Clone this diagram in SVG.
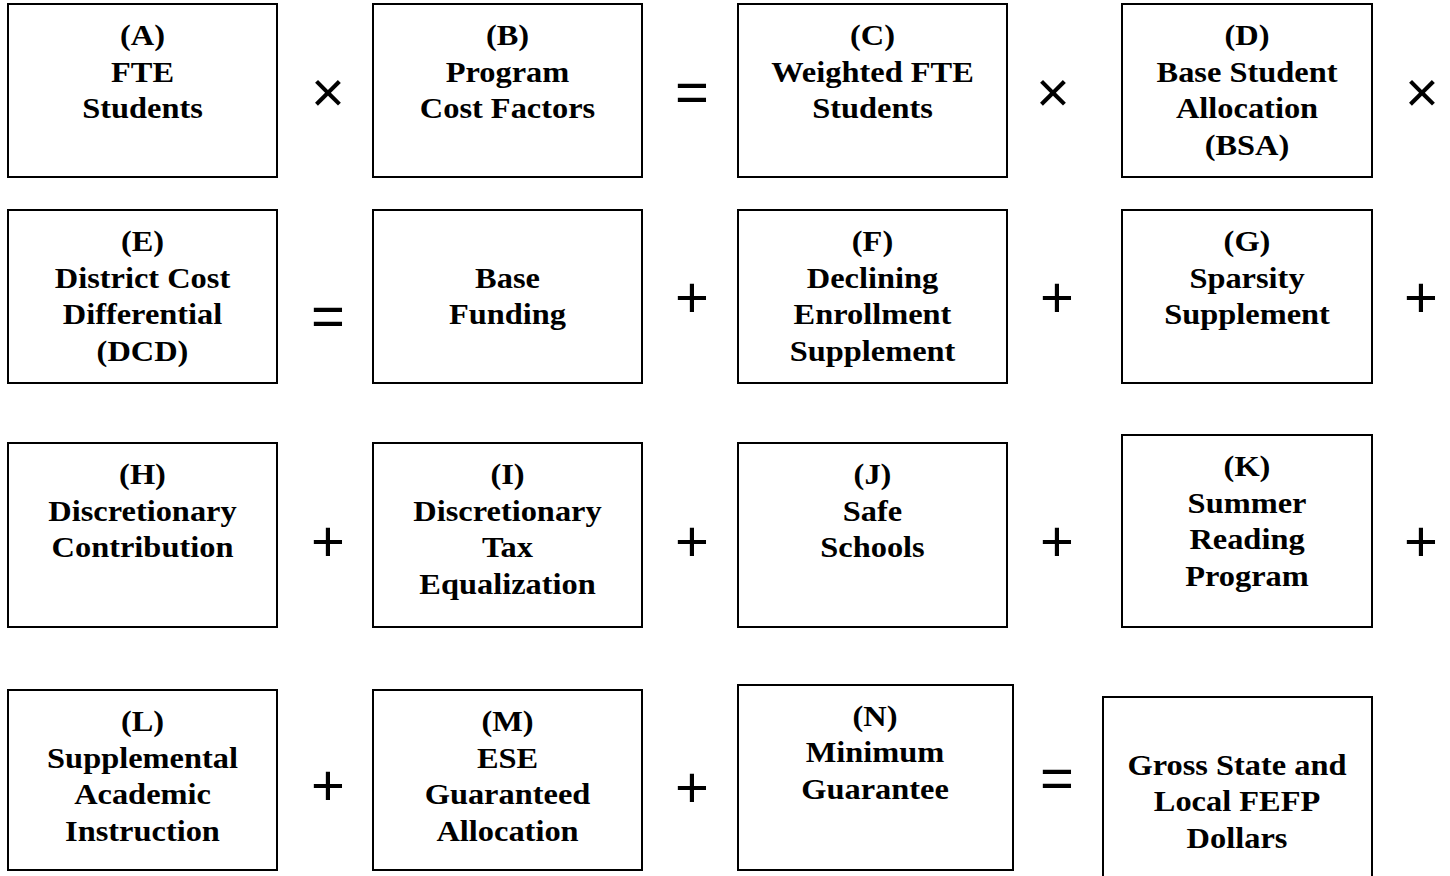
<svg xmlns="http://www.w3.org/2000/svg" width="1450" height="876" viewBox="0 0 1450 876">
<style>
.box{fill:#fff;stroke:#000;stroke-width:2}
.t{font-family:"Liberation Serif","Times New Roman",serif;font-weight:bold;font-size:30px;text-anchor:middle;fill:#000}
.op{font-family:"Liberation Sans",Arial,sans-serif;font-size:58px;text-anchor:middle;fill:#000}
</style>
<rect width="1450" height="876" fill="#fff"/>
<g id="A"><rect class="box" x="8" y="4" width="269" height="173"/><g transform="translate(142.5 0) scale(1.08 1)"><text class="t" x="0" y="45">(A)</text><text class="t" x="0" y="82">FTE</text><text class="t" x="0" y="118">Students</text></g></g>
<g id="B"><rect class="box" x="373" y="4" width="269" height="173"/><g transform="translate(507.5 0) scale(1.08 1)"><text class="t" x="0" y="45">(B)</text><text class="t" x="0" y="82">Program</text><text class="t" x="0" y="118">Cost Factors</text></g></g>
<g id="C"><rect class="box" x="738" y="4" width="269" height="173"/><g transform="translate(872.5 0) scale(1.08 1)"><text class="t" x="0" y="45">(C)</text><text class="t" x="0" y="82">Weighted FTE</text><text class="t" x="0" y="118">Students</text></g></g>
<g id="D"><rect class="box" x="1122" y="4" width="250" height="173"/><g transform="translate(1247 0) scale(1.08 1)"><text class="t" x="0" y="45">(D)</text><text class="t" x="0" y="82">Base Student</text><text class="t" x="0" y="118">Allocation</text><text class="t" x="0" y="155">(BSA)</text></g></g>
<g id="E"><rect class="box" x="8" y="210" width="269" height="173"/><g transform="translate(142.5 0) scale(1.08 1)"><text class="t" x="0" y="251">(E)</text><text class="t" x="0" y="288">District Cost</text><text class="t" x="0" y="324">Differential</text><text class="t" x="0" y="361">(DCD)</text></g></g>
<g id="BaseFunding"><rect class="box" x="373" y="210" width="269" height="173"/><g transform="translate(507.5 0) scale(1.08 1)"><text class="t" x="0" y="288">Base</text><text class="t" x="0" y="324">Funding</text></g></g>
<g id="F"><rect class="box" x="738" y="210" width="269" height="173"/><g transform="translate(872.5 0) scale(1.08 1)"><text class="t" x="0" y="251">(F)</text><text class="t" x="0" y="288">Declining</text><text class="t" x="0" y="324">Enrollment</text><text class="t" x="0" y="361">Supplement</text></g></g>
<g id="G"><rect class="box" x="1122" y="210" width="250" height="173"/><g transform="translate(1247 0) scale(1.08 1)"><text class="t" x="0" y="251">(G)</text><text class="t" x="0" y="288">Sparsity</text><text class="t" x="0" y="324">Supplement</text></g></g>
<g id="H"><rect class="box" x="8" y="443" width="269" height="184"/><g transform="translate(142.5 0) scale(1.08 1)"><text class="t" x="0" y="484">(H)</text><text class="t" x="0" y="521">Discretionary</text><text class="t" x="0" y="557">Contribution</text></g></g>
<g id="I"><rect class="box" x="373" y="443" width="269" height="184"/><g transform="translate(507.5 0) scale(1.08 1)"><text class="t" x="0" y="484">(I)</text><text class="t" x="0" y="521">Discretionary</text><text class="t" x="0" y="557">Tax</text><text class="t" x="0" y="594">Equalization</text></g></g>
<g id="J"><rect class="box" x="738" y="443" width="269" height="184"/><g transform="translate(872.5 0) scale(1.08 1)"><text class="t" x="0" y="484">(J)</text><text class="t" x="0" y="521">Safe</text><text class="t" x="0" y="557">Schools</text></g></g>
<g id="K"><rect class="box" x="1122" y="435" width="250" height="192"/><g transform="translate(1247 0) scale(1.08 1)"><text class="t" x="0" y="476">(K)</text><text class="t" x="0" y="513">Summer</text><text class="t" x="0" y="549">Reading</text><text class="t" x="0" y="586">Program</text></g></g>
<g id="L"><rect class="box" x="8" y="690" width="269" height="180"/><g transform="translate(142.5 0) scale(1.08 1)"><text class="t" x="0" y="731">(L)</text><text class="t" x="0" y="768">Supplemental</text><text class="t" x="0" y="804">Academic</text><text class="t" x="0" y="841">Instruction</text></g></g>
<g id="M"><rect class="box" x="373" y="690" width="269" height="180"/><g transform="translate(507.5 0) scale(1.08 1)"><text class="t" x="0" y="731">(M)</text><text class="t" x="0" y="768">ESE</text><text class="t" x="0" y="804">Guaranteed</text><text class="t" x="0" y="841">Allocation</text></g></g>
<g id="N"><rect class="box" x="738" y="685" width="275" height="185"/><g transform="translate(875 0) scale(1.08 1)"><text class="t" x="0" y="726">(N)</text><text class="t" x="0" y="762">Minimum</text><text class="t" x="0" y="799">Guarantee</text></g></g>
<g id="Gross"><rect class="box" x="1103" y="697" width="269" height="190"/><g transform="translate(1237 0) scale(1.08 1)"><text class="t" x="0" y="775">Gross State and</text><text class="t" x="0" y="811">Local FEFP</text><text class="t" x="0" y="848">Dollars</text></g></g>
<g id="connectors">
<text class="op" x="328" y="112">×</text><text class="op" x="692" y="112">=</text><text class="op" x="1053" y="112">×</text><text class="op" x="1422" y="112">×</text>
<text class="op" x="328" y="336">=</text><text class="op" x="692" y="317">+</text><text class="op" x="1057" y="317">+</text><text class="op" x="1421" y="317">+</text>
<text class="op" x="328" y="561">+</text><text class="op" x="692" y="561">+</text><text class="op" x="1057" y="561">+</text><text class="op" x="1421" y="561">+</text>
<text class="op" x="328" y="805">+</text><text class="op" x="692" y="807">+</text><text class="op" x="1057" y="798">=</text>
</g>
</svg>
